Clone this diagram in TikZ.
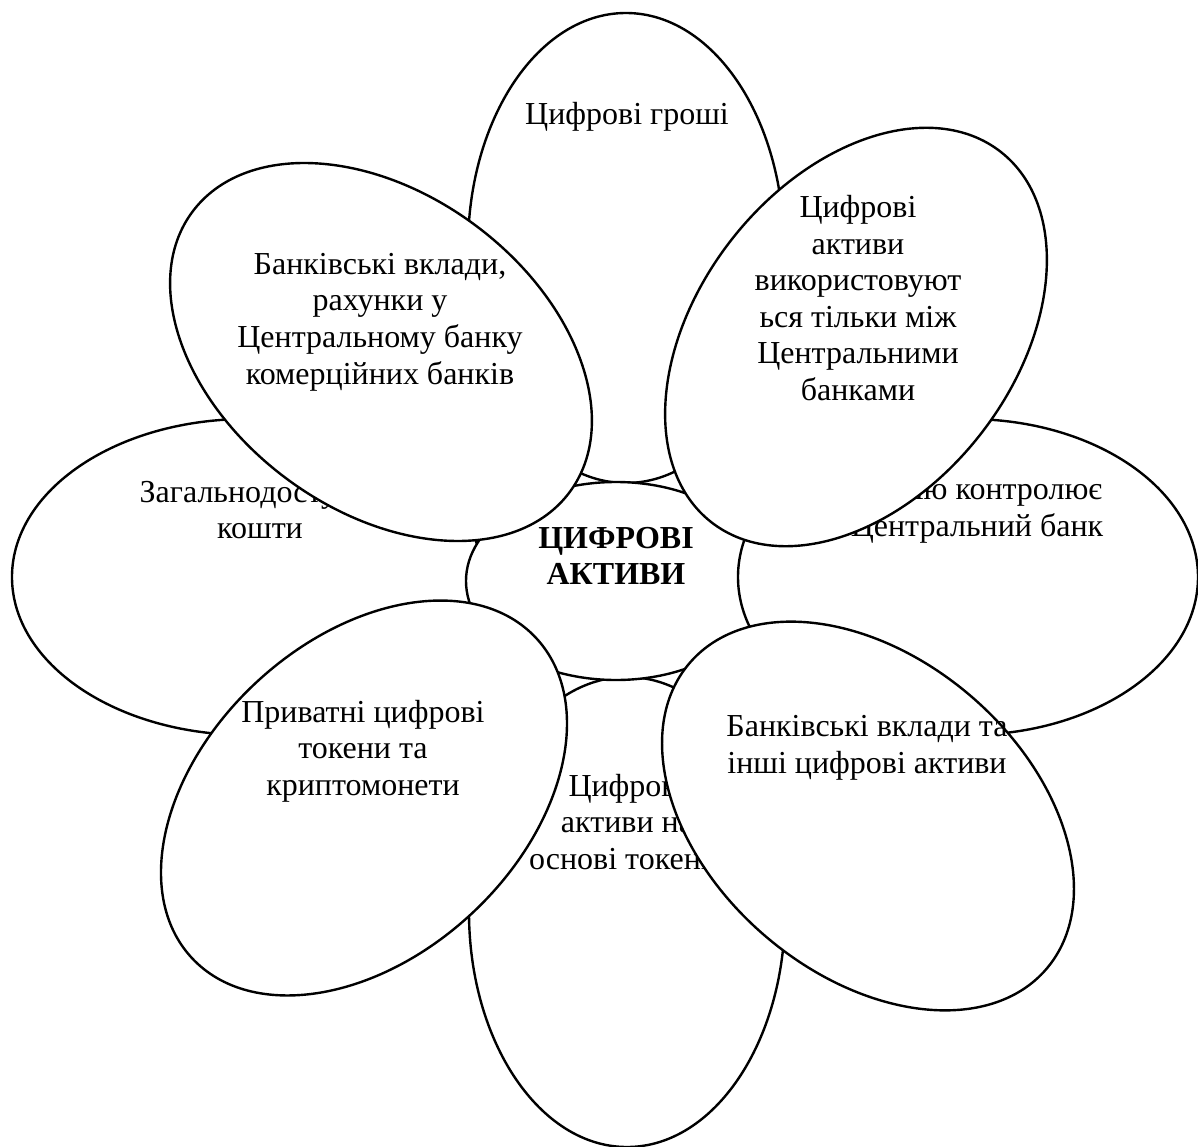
\documentclass[tikz,border=0pt]{standalone}
\usepackage{fontspec}
\setmainfont{Liberation Serif}
\usetikzlibrary{shapes.geometric}

\begin{document}
\begin{tikzpicture}[
    x=0.5pt, y=0.5pt,
    font=\fontsize{16}{18.3}\selectfont,
    petal/.style={draw, ellipse, fill=white, line width=1.2pt, minimum width=235pt, minimum height=158pt, inner sep=0pt},
    core/.style={draw, ellipse, fill=white, line width=1.2pt, minimum width=150pt, minimum height=99pt, inner sep=0pt},
    txt/.style={align=center, inner sep=0pt}
]
    \useasboundingbox (-616,-565) rectangle (582,581);

    \node[petal, rotate=90] (top) at (10,333) {};
    \node[txt] (toptxt) at (11,464) {Цифрові гроші};
    \node[petal, rotate=90] (bottom) at (11,-331) {};
    \node[txt] (bottomtxt) at (11,-241) {Цифрові\\активи на\\основі токенів};
    \node[petal] (left) at (-369,4) {};
    \node[txt] (lefttxt) at (-356,71) {Загальнодоступні\\кошти};
    \node[core] (core) at (0,0) {};
    \node[txt, font=\fontsize{16}{18.3}\selectfont\bfseries] (coretxt) at (0,25) {ЦИФРОВІ\\АКТИВИ};
    \node[petal, minimum width=230pt] (right) at (352,4) {};
    \node[txt] (righttxt) at (361,70) {Емісію контролює\\Центральний банк};

    % tilted petals lie over the others
    \node[petal, rotate=-36.6] (topleft) at (-235,229) {};
    \node[txt] (toplefttxt) at (-236,259) {Банківські вклади,\\рахунки у\\Центральному банку\\комерційних банків};
    \node[petal, rotate=52] (topright) at (240,244) {};
    \node[txt] (toprighttxt) at (242,283) {Цифрові\\активи\\використовуют\\ься тільки між\\Центральними\\банками};
    \node[petal, rotate=42.9] (bottomleft) at (-252,-217) {};
    \node[txt] (bottomlefttxt) at (-253,-170) {Приватні цифрові\\токени та\\криптомонети};
    \node[petal, rotate=-40.6] (bottomright) at (252,-235) {};
    \node[txt] (bottomrighttxt) at (251,-167) {Банківські вклади та\\інші цифрові активи};
\end{tikzpicture}
\end{document}
